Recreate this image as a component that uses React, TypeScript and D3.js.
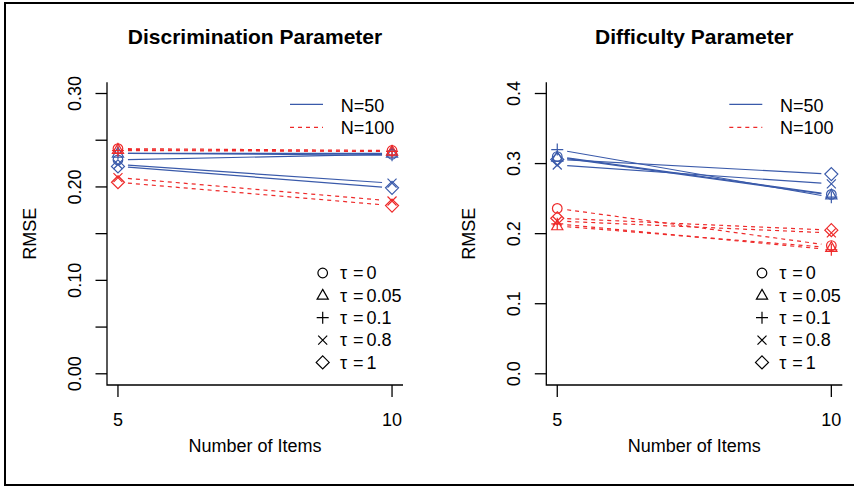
import * as d3 from "d3";

// x positions (number of items)
const itemCounts = [5, 10];

// tau levels, one marker shape each
const tauValues = ["0", "0.05", "0.1", "0.8", "1"];
const tauShapes = ["circle", "triangle", "plus", "times", "diamond"];

const seriesLabels = ["N=50", "N=100"];

// RMSE for discrimination parameter, rows = tau, cols = items 5 / 10
const discN50 = [
  [0.229, 0.235],
  [0.236, 0.236],
  [0.236, 0.234],
  [0.224, 0.204],
  [0.222, 0.199],
];
const discN100 = [
  [0.241, 0.239],
  [0.240, 0.238],
  [0.239, 0.238],
  [0.210, 0.185],
  [0.205, 0.180],
];

// RMSE for difficulty parameter
const diffN50 = [
  [0.310, 0.256],
  [0.309, 0.255],
  [0.320, 0.252],
  [0.298, 0.271],
  [0.306, 0.285],
];
const diffN100 = [
  [0.236, 0.183],
  [0.211, 0.180],
  [0.214, 0.177],
  [0.218, 0.201],
  [0.222, 0.205],
];

const discTicks = [0, 0.05, 0.1, 0.15, 0.2, 0.25, 0.3];
const discTickLabels = ["0.00", "", "0.10", "", "0.20", "", "0.30"];
const diffTicks = [0, 0.1, 0.2, 0.3, 0.4];
const diffTickLabels = ["0.0", "0.1", "0.2", "0.3", "0.4"];

const BLUE = "#3a5aaa";
const RED = "#ee2a2a";
const FONT = "'Liberation Sans', Arial, Helvetica, sans-serif";

// open marker outlines, like R's pch 1, 2, 3, 4, 5
function markerPath(shape: string): string {
  switch (shape) {
    case "circle":
      return d3.arc()({ innerRadius: 0, outerRadius: 4.8, startAngle: 0, endAngle: 2 * Math.PI }) as string;
    case "triangle":
      return "M0,-6L5.6,3.8L-5.6,3.8Z";
    case "plus":
      return "M-6,0H6M0,-6V6";
    case "times":
      return "M-4.5,-4.5L4.5,4.5M-4.5,4.5L4.5,-4.5";
    default:
      return "M0,-6.5L6.5,0L0,6.5L-6.5,0Z";
  }
}

type PanelProps = {
  left: number;
  title: string;
  yMax: number;
  ticks: number[];
  tickLabels: string[];
  n50: number[][];
  n100: number[][];
};

function Panel({ left, title, yMax, ticks, tickLabels, n50, n100 }: PanelProps) {
  const pw = 296;
  const top = 82.3;
  const bottom = 385;
  const xPad = (itemCounts[1] - itemCounts[0]) * 0.04;
  const yPad = yMax * 0.04;
  const x = d3.scaleLinear().domain([itemCounts[0] - xPad, itemCounts[1] + xPad]).range([left, left + pw]);
  const y = d3.scaleLinear().domain([-yPad, yMax + yPad]).range([bottom, top]);
  const cx = left + pw / 2;
  const cy = (top + bottom) / 2;
  const line = d3.line<[number, number]>();

  // type = "b": segments leave a gap around each point
  const seg = (vals: number[]) => {
    const x0 = x(itemCounts[0]), y0 = y(vals[0]);
    const x1 = x(itemCounts[1]), y1 = y(vals[1]);
    const len = Math.hypot(x1 - x0, y1 - y0);
    const g = 10 / len;
    return line([
      [x0 + (x1 - x0) * g, y0 + (y1 - y0) * g],
      [x1 - (x1 - x0) * g, y1 - (y1 - y0) * g],
    ]) as string;
  };

  const series = [
    { data: n50, color: BLUE, dash: undefined },
    { data: n100, color: RED, dash: "4,4" },
  ];

  const legX = left + 183;
  const tauX = left + 215.7;
  const tauRowY = (i: number) => 273 + i * 22.35;

  return (
    <g>
      <text x={cx} y={44} textAnchor="middle" fontSize={21} fontWeight="bold" fontFamily={FONT}>
        {title}
      </text>

      {/* L-shaped box */}
      <path d={`M${left},${top}V${bottom}H${left + pw}`} fill="none" stroke="#000" strokeWidth={1.3} />

      {ticks.map((t, i) => (
        <g key={"yt" + i}>
          <line x1={left} x2={left - 11.5} y1={y(t)} y2={y(t)} stroke="#000" strokeWidth={1.3} />
          {tickLabels[i] && (
            <text
              transform={`translate(${left - 26},${y(t)}) rotate(-90)`}
              textAnchor="middle"
              fontSize={18}
              fontFamily={FONT}
            >
              {tickLabels[i]}
            </text>
          )}
        </g>
      ))}

      {itemCounts.map((v) => (
        <g key={"xt" + v}>
          <line x1={x(v)} x2={x(v)} y1={bottom} y2={bottom + 12} stroke="#000" strokeWidth={1.3} />
          <text x={x(v)} y={426} textAnchor="middle" fontSize={18} fontFamily={FONT}>
            {v}
          </text>
        </g>
      ))}

      <text x={cx} y={452} textAnchor="middle" fontSize={18} fontFamily={FONT}>
        Number of Items
      </text>
      <text
        transform={`translate(${left - 71},${cy}) rotate(-90)`}
        textAnchor="middle"
        fontSize={18}
        fontFamily={FONT}
      >
        RMSE
      </text>

      {series.map((s, si) => (
        <g key={"s" + si}>
          {s.data.map((vals, ti) => (
            <g key={ti}>
              <path d={seg(vals)} fill="none" stroke={s.color} strokeWidth={1.2} strokeDasharray={s.dash} />
              {itemCounts.map((ic, k) => (
                <path
                  key={k}
                  d={markerPath(tauShapes[ti])}
                  transform={`translate(${x(ic)},${y(vals[k])})`}
                  fill="none"
                  stroke={s.color}
                  strokeWidth={1.2}
                />
              ))}
            </g>
          ))}
        </g>
      ))}

      {/* series legend */}
      {series.map((s, si) => (
        <g key={"leg" + si}>
          <line
            x1={legX}
            x2={legX + 33}
            y1={104.3 + si * 23}
            y2={104.3 + si * 23}
            stroke={s.color}
            strokeWidth={1.2}
            strokeDasharray={s.dash}
          />
          <text x={left + 233.7} y={111.5 + si * 22} fontSize={18} fontFamily={FONT}>
            {seriesLabels[si]}
          </text>
        </g>
      ))}

      {/* tau legend */}
      {tauValues.map((tv, i) => (
        <g key={"tau" + i}>
          <path
            d={markerPath(tauShapes[i])}
            transform={`translate(${tauX},${tauRowY(i)})`}
            fill="none"
            stroke="#000"
            strokeWidth={1.2}
          />
          <text y={tauRowY(i) + 6.4} fontSize={18} fontFamily={FONT}>
            <tspan x={left + 233}>τ</tspan>
            <tspan x={left + 246}>=</tspan>
            <tspan x={left + 259.5}>{tv}</tspan>
          </text>
        </g>
      ))}
    </g>
  );
}

export default function App() {
  return (
    <svg
      width={854}
      height={486}
      style={{ position: "absolute", left: 0, top: 0, background: "#fff" }}
    >
      <rect x={0} y={0} width={854} height={486} fill="#fff" />
      <rect x={5} y={3} width={870} height={482} fill="none" stroke="#000" strokeWidth={2} />
      <Panel
        left={107}
        title="Discrimination Parameter"
        yMax={0.3}
        ticks={discTicks}
        tickLabels={discTickLabels}
        n50={discN50}
        n100={discN100}
      />
      <Panel
        left={546.3}
        title="Difficulty Parameter"
        yMax={0.4}
        ticks={diffTicks}
        tickLabels={diffTickLabels}
        n50={diffN50}
        n100={diffN100}
      />
    </svg>
  );
}
